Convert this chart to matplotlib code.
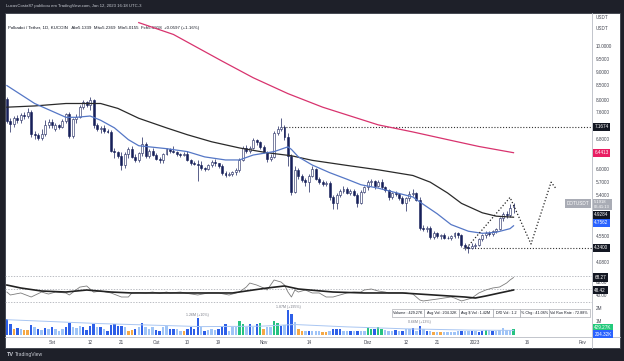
import matplotlib
matplotlib.use("Agg")
import matplotlib.pyplot as plt
import matplotlib.dates as mdates
import matplotlib.transforms as mtransforms
from matplotlib.patches import Rectangle
from matplotlib.ticker import NullLocator
import pandas as pd

plt.rcParams['font.family'] = ['Liberation Sans', 'DejaVu Sans']

# ------------------------------------------------------------------ data
opens = [
    8.05, 7.35, 7.25, 7.45, 7.38, 7.52, 7.50, 7.62, 6.95, 6.92, 6.85, 6.95, 7.22,
    7.33, 7.10, 7.22, 7.18, 7.35, 7.55, 6.90, 7.40, 7.48, 7.78, 7.95, 7.85, 8.00, 7.22, 7.10,
    7.15, 7.05, 7.02, 6.50, 6.46, 6.35, 6.12, 6.40, 6.55, 6.33, 6.25, 6.42, 6.68, 6.36, 6.50,
    6.38, 6.28, 6.24, 6.40, 6.53, 6.50, 6.46, 6.40, 6.38, 6.41, 6.25, 6.18, 6.15, 6.12, 6.05,
    6.03, 6.13, 6.20, 6.16, 6.10, 5.92, 5.88, 5.90, 5.94, 5.99, 6.25, 6.58, 6.48, 6.58, 6.78, 6.72,
    6.60, 6.45, 6.27, 6.34, 6.98, 7.12, 7.17, 6.88, 6.35, 5.48, 6.00, 5.85, 5.75, 5.70, 5.85,
    6.02, 5.78, 5.70, 5.66, 5.68, 5.35, 5.22, 5.40, 5.50, 5.55, 5.45, 5.50, 5.40, 5.22, 5.48,
    5.58, 5.70, 5.72, 5.60, 5.70, 5.58, 5.52, 5.35, 5.45, 5.42, 5.33, 5.23, 5.33, 5.42, 5.46,
    5.30, 4.72, 4.69, 4.72, 4.54, 4.62, 4.55, 4.57, 4.52, 4.53, 4.56, 4.61, 4.58, 4.40, 4.36, 4.34,
    4.38, 4.40, 4.50, 4.57, 4.62, 4.60, 4.65, 4.70, 4.91, 5.00, 4.97, 5.1339,
]
highs = [
    8.12, 7.45, 7.50, 7.52, 7.60, 7.62, 7.75, 7.68, 7.05, 7.00, 7.10, 7.38, 7.42,
    7.40, 7.28, 7.26, 7.40, 7.60, 7.62, 7.45, 7.55, 7.85, 8.00, 7.98, 8.10, 8.05, 7.30, 7.20,
    7.22, 7.12, 7.08, 6.58, 6.50, 6.45, 6.45, 6.60, 6.62, 6.40, 6.45, 6.88, 6.72, 6.55, 6.58,
    6.42, 6.32, 6.42, 6.58, 6.56, 6.62, 6.50, 6.44, 6.45, 6.48, 6.28, 6.22, 6.25, 6.22, 6.08,
    6.15, 6.25, 6.28, 6.18, 6.15, 5.98, 5.94, 5.98, 6.05, 6.30, 6.62, 6.65, 6.62, 6.85, 6.82, 6.76,
    6.65, 6.50, 6.40, 7.05, 7.20, 7.45, 7.22, 7.00, 6.40, 6.10, 6.05, 5.90, 5.80, 5.90, 6.10,
    6.05, 5.82, 5.76, 5.72, 5.72, 5.40, 5.45, 5.55, 5.60, 5.58, 5.55, 5.54, 5.44, 5.52, 5.62,
    5.75, 5.78, 5.75, 5.74, 5.78, 5.62, 5.55, 5.48, 5.50, 5.45, 5.38, 5.36, 5.50, 5.55, 5.48,
    5.35, 4.78, 4.76, 4.75, 4.65, 4.64, 4.60, 4.62, 4.56, 4.58, 4.64, 4.64, 4.60, 4.43, 4.40, 4.42,
    4.42, 4.52, 4.60, 4.66, 4.66, 4.68, 4.72, 4.94, 5.04, 5.05, 5.20, 5.2369,
]
lows = [
    7.30, 7.02, 7.18, 7.30, 7.28, 7.42, 7.45, 6.88, 6.82, 6.78, 6.80, 6.90, 7.15,
    7.15, 7.05, 7.12, 7.15, 7.30, 6.85, 6.85, 7.30, 7.45, 7.72, 7.78, 7.70, 7.15, 7.05, 6.98,
    7.00, 6.98, 6.45, 6.30, 6.30, 6.00, 6.05, 6.30, 6.30, 6.20, 6.20, 6.35, 6.30, 6.30, 6.35,
    6.25, 6.18, 6.18, 6.38, 6.42, 6.42, 6.36, 6.34, 6.35, 6.22, 6.12, 6.12, 5.72, 6.00, 5.98,
    6.00, 6.08, 6.10, 6.05, 5.88, 5.82, 5.85, 5.85, 5.88, 5.95, 6.22, 6.42, 6.42, 6.55, 6.65, 6.55,
    6.42, 6.20, 6.22, 6.30, 6.92, 7.05, 6.80, 6.10, 5.40, 5.45, 5.78, 5.70, 5.62, 5.48, 5.82,
    5.75, 5.65, 5.62, 5.62, 5.30, 5.10, 5.10, 5.35, 5.45, 5.42, 5.40, 5.38, 5.15, 5.20, 5.45,
    5.52, 5.60, 5.55, 5.58, 5.55, 5.48, 5.30, 5.32, 5.38, 5.30, 5.20, 5.05, 5.28, 5.38, 5.28,
    4.68, 4.65, 4.64, 4.50, 4.50, 4.52, 4.50, 4.50, 4.50, 4.48, 4.52, 4.52, 4.36, 4.30, 4.25, 4.32,
    4.34, 4.38, 4.46, 4.52, 4.56, 4.55, 4.62, 4.68, 4.86, 4.92, 4.93, 5.0155,
]
closes = [
    7.35, 7.25, 7.45, 7.38, 7.52, 7.50, 7.62, 6.95, 6.92, 6.85, 6.95, 7.22, 7.33,
    7.22, 7.22, 7.18, 7.35, 7.55, 6.90, 7.40, 7.48, 7.78, 7.95, 7.85, 8.00, 7.22, 7.10, 7.15,
    7.05, 7.02, 6.50, 6.46, 6.35, 6.12, 6.40, 6.55, 6.33, 6.25, 6.42, 6.68, 6.36, 6.50, 6.38,
    6.28, 6.24, 6.40, 6.53, 6.50, 6.46, 6.40, 6.38, 6.41, 6.25, 6.18, 6.15, 6.12, 6.05, 6.03,
    6.13, 6.20, 6.16, 6.10, 5.92, 5.88, 5.90, 5.94, 5.99, 6.25, 6.58, 6.48, 6.58, 6.78, 6.72, 6.60,
    6.45, 6.27, 6.34, 6.98, 7.12, 7.17, 6.88, 6.35, 5.48, 6.00, 5.85, 5.75, 5.70, 5.85, 6.02,
    5.78, 5.70, 5.66, 5.68, 5.35, 5.22, 5.40, 5.50, 5.55, 5.45, 5.50, 5.40, 5.22, 5.48, 5.58,
    5.70, 5.72, 5.60, 5.70, 5.58, 5.52, 5.35, 5.45, 5.42, 5.33, 5.23, 5.33, 5.42, 5.46, 5.30,
    4.72, 4.69, 4.72, 4.54, 4.62, 4.55, 4.57, 4.52, 4.53, 4.56, 4.61, 4.58, 4.40, 4.36, 4.34, 4.38,
    4.40, 4.50, 4.57, 4.62, 4.60, 4.65, 4.70, 4.91, 5.00, 4.97, 5.13, 5.1918,
]
volumes = [
    1.20, 0.85, 0.45, 0.50, 0.45, 0.35, 0.33, 0.75, 0.56, 0.44, 0.36, 0.49, 0.44,
    0.56, 0.44, 0.31, 0.40, 0.56, 0.90, 0.62, 0.50, 0.70, 0.56, 0.36, 0.70, 0.85, 0.56, 0.56,
    0.44, 0.31, 0.78, 0.82, 0.69, 0.69, 0.62, 0.31, 0.36, 0.44, 0.56, 0.87, 0.56, 0.44, 0.56,
    0.36, 0.30, 0.56, 0.69, 0.44, 0.44, 0.44, 0.31, 0.26, 0.44, 0.56, 0.44, 1.26, 0.56, 0.31,
    0.36, 0.44, 0.36, 0.44, 0.69, 0.82, 0.31, 0.56, 0.56, 1.08, 0.82, 0.56, 0.82, 0.56, 0.82, 0.87,
    0.44, 0.56, 0.62, 1.08, 0.87, 0.69, 0.74, 1.87, 1.60, 0.95, 0.44, 0.31, 0.26, 0.31, 0.31,
    0.26, 0.26, 0.18, 0.18, 0.26, 0.44, 0.44, 0.44, 0.31, 0.31, 0.26, 0.31, 0.26, 0.31, 0.31,
    0.56, 0.44, 0.44, 0.56, 0.44, 0.36, 0.31, 0.26, 0.36, 0.26, 0.31, 0.44, 0.44, 0.49, 0.31,
    0.69, 0.44, 0.26, 0.26, 0.18, 0.18, 0.18, 0.18, 0.18, 0.23, 0.18, 0.26, 0.31, 0.31, 0.26, 0.26,
    0.26, 0.18, 0.31, 0.38, 0.36, 0.26, 0.31, 0.36, 0.49, 0.38, 0.38, 0.43,
]
volume_kind = ("ddodloodldldl"
               "dlllddllld" "dddldldddd" "dloodldlll"
               "ddllddllod" "dddldllldd" "dlllggldldg"
               "ollggdlddl" "ooldlllool" "dddlldldll"
               "ggdggllldl" "dlldldldlo" "lollllldlld"
               "lddgldlllllg")

ma_blue_dates = ["2022-08-19", "2022-08-27", "2022-09-05", "2022-09-08", "2022-09-12", "2022-09-15",
                 "2022-09-19", "2022-09-23", "2022-09-26", "2022-10-04", "2022-10-10", "2022-10-15",
                 "2022-10-21", "2022-10-25", "2022-10-29", "2022-11-04", "2022-11-08", "2022-11-09",
                 "2022-11-11", "2022-11-15", "2022-11-20", "2022-11-25", "2022-11-29", "2022-12-04",
                 "2022-12-14", "2022-12-16", "2022-12-21", "2022-12-25", "2022-12-30", "2023-01-03",
                 "2023-01-07", "2023-01-11", "2023-01-12"]
ma_blue = [8.51, 7.90, 7.46, 7.46, 7.50, 7.37, 7.14, 6.80, 6.63, 6.55, 6.47, 6.33, 6.25, 6.25,
           6.38, 6.47, 6.60, 6.53, 6.33, 6.12, 5.93, 5.77, 5.64, 5.56, 5.36, 5.25, 5.00, 4.78,
           4.65, 4.61, 4.63, 4.70, 4.7562]

ma_black_dates = ["2022-08-19", "2022-08-27", "2022-09-05", "2022-09-15", "2022-09-20", "2022-09-26",
                  "2022-10-04", "2022-10-10", "2022-10-17", "2022-10-25", "2022-11-02", "2022-11-09",
                  "2022-11-15", "2022-11-25", "2022-12-04", "2022-12-14", "2022-12-19", "2022-12-24",
                  "2022-12-28", "2023-01-03", "2023-01-07", "2023-01-12"]
ma_black = [7.78, 7.82, 7.90, 7.90, 7.74, 7.43, 7.14, 6.94, 6.74, 6.57, 6.44, 6.36, 6.24, 6.11,
            6.00, 5.86, 5.70, 5.45, 5.22, 5.02, 4.95, 4.9284]

ma_pink_dates = ["2022-09-26", "2022-10-06", "2022-10-20", "2022-10-29", "2022-11-08", "2022-11-18",
                 "2022-12-04", "2022-12-14", "2022-12-24", "2023-01-02", "2023-01-12"]
ma_pink = [11.05, 10.52, 9.42, 8.79, 8.23, 7.78, 7.23, 7.02, 6.80, 6.61, 6.4413]

rsi_dates = ["2022-08-19", "2022-08-20", "2022-08-23", "2022-08-26", "2022-08-29", "2022-08-31",
             "2022-09-02", "2022-09-05", "2022-09-06", "2022-09-09", "2022-09-11", "2022-09-13",
             "2022-09-15", "2022-09-18", "2022-09-21", "2022-09-23", "2022-09-24", "2022-09-26",
             "2022-09-28", "2022-09-30", "2022-10-02", "2022-10-04", "2022-10-05", "2022-10-08",
             "2022-10-10", "2022-10-13", "2022-10-16", "2022-10-19", "2022-10-22", "2022-10-25",
             "2022-10-27", "2022-10-28", "2022-10-30", "2022-11-01", "2022-11-02", "2022-11-04",
             "2022-11-06", "2022-11-07", "2022-11-08", "2022-11-09", "2022-11-10", "2022-11-11",
             "2022-11-13", "2022-11-15", "2022-11-17", "2022-11-19", "2022-11-21", "2022-11-23",
             "2022-11-25", "2022-11-27", "2022-11-29", "2022-11-30", "2022-12-02", "2022-12-04",
             "2022-12-06", "2022-12-07", "2022-12-09", "2022-12-12", "2022-12-14", "2022-12-16",
             "2022-12-17", "2022-12-19", "2022-12-21", "2022-12-23", "2022-12-25", "2022-12-26",
             "2022-12-28", "2022-12-29", "2022-12-31", "2023-01-02", "2023-01-04", "2023-01-06",
             "2023-01-08", "2023-01-10", "2023-01-11", "2023-01-12"]
rsi = [45.2, 40.5, 43.7, 37.3, 45.2, 42.0,
       45.2, 43.7, 40.5, 53.0, 54.8, 45.0,
       47.0, 43.7, 37.3, 37.3, 43.7, 44.5,
       43.7, 45.2, 43.0, 45.2, 43.7, 45.2,
       43.0, 40.5, 43.7, 43.7, 40.5, 45.2,
       53.2, 59.5, 56.3, 51.6, 48.4, 64.3,
       61.1, 56.3, 45.2, 37.3, 48.4, 45.2,
       48.4, 43.7, 43.7, 37.3, 37.3, 40.5,
       43.7, 45.2, 45.2, 48.4, 50.0, 46.8,
       45.2, 43.7, 43.7, 43.7, 42.0, 32.5,
       31.0, 32.5, 34.0, 35.7, 37.3, 35.7,
       31.0, 32.5, 35.7, 43.7, 48.4, 51.6,
       53.2, 59.5, 64.3, 68.27]
rsi_ma_dates = ["2022-08-19", "2022-08-23", "2022-08-29", "2022-09-05", "2022-09-11", "2022-09-18",
                "2022-09-24", "2022-10-04", "2022-10-13", "2022-10-23", "2022-11-02", "2022-11-07",
                "2022-11-11", "2022-11-21", "2022-11-30", "2022-12-11", "2022-12-20", "2022-12-29",
                "2023-01-01", "2023-01-04", "2023-01-08", "2023-01-12"]
rsi_ma = [56.3, 51.6, 46.8, 45.2, 48.4, 45.2, 43.7, 43.7, 43.7, 43.7, 51.6, 54.8,
          50.0, 45.2, 43.7, 43.7, 40.5, 37.3, 35.7, 38.9, 43.7, 48.42]

vol_ma_dates = ["2022-08-19", "2022-09-15", "2022-10-14", "2022-10-31", "2022-11-10",
                "2022-11-25", "2022-12-12", "2022-12-31", "2023-01-12"]
vol_ma = [1.15, 0.85, 0.62, 0.65, 0.78, 0.60, 0.45, 0.35, 0.33]

projection_dates = ["2022-12-29 12:00", "2023-01-11 00:00", "2023-01-17 01:00", "2023-01-22 20:00",
                    "2023-01-24 08:00"]
projection_prices = [4.34, 5.35, 4.41, 5.70, 5.54]

price_ticks = [10.0, 9.5, 9.0, 8.5, 8.0, 7.6, 6.8, 6.0, 5.7, 5.4, 4.55, 4.08]
x_tick_dates = ["2022-09-01", "2022-09-12", "2022-09-21", "2022-10-01", "2022-10-10", "2022-10-19",
                "2022-11-01", "2022-11-14", "2022-12-01", "2022-12-12", "2022-12-21", "2023-01-01",
                "2023-01-16", "2023-02-01"]
x_tick_labels = ["Set", "12", "21", "Out", "10", "19", "Nov", "14", "Dez", "12", "21", "2023", "16", "Fev"]

resistance, support = 7.1674, 4.34
stats = ["Volume : 429.27K", "Avg Vol : 204.32K", "Avg $ Vol : 1.42M", "D/D Vol : 1.2",
         "% Chg : 41.06%", "Vol Run Rate : 72.88%"]

# ------------------------------------------------------------------ layout
dates = pd.date_range("2022-08-19", periods=len(closes), freq="D")
x = mdates.date2num(dates)


def d(s):
    return mdates.date2num(pd.Timestamp(s))


def dl(lst):
    return [d(s) for s in lst]


sep1 = d("2022-09-01")
xmin, xmax = sep1 - 47 / 3.47, sep1 + 540 / 3.47

W, H = 624, 361
fig = plt.figure(figsize=(W / 100, H / 100), dpi=100)
fig.patch.set_facecolor('#1e2029')
bg = fig.add_axes([0, 0, 1, 1])
bg.set_xlim(0, W); bg.set_ylim(H, 0); bg.axis('off')
bg.add_patch(Rectangle((5, 13), 615, 335, facecolor='white', edgecolor='#3a3e48', lw=0.6))
bg.plot([592, 592], [13, 348], color='#b8bcc4', lw=0.6)
bg.plot([5, 620], [336.5, 336.5], color='#b8bcc4', lw=0.6)

FS = 3.3
TXT = '#434651'


def pane(top, bottom):
    a = fig.add_axes([5 / W, 1 - bottom / H, 587 / W, (bottom - top) / H])
    a.set_facecolor('none')
    for s in a.spines.values():
        s.set_visible(False)
    a.set_xlim(xmin, xmax)
    return a


def clean(a):
    a.xaxis.set_major_locator(NullLocator()); a.xaxis.set_minor_locator(NullLocator())
    a.yaxis.set_major_locator(NullLocator()); a.yaxis.set_minor_locator(NullLocator())


def rlabel(a, v, s):
    tr = mtransforms.blended_transform_factory(a.transAxes, a.transData)
    a.text(1.007, v, s, transform=tr, fontsize=FS, color=TXT, va='center', ha='left', clip_on=False)


def tag(a, v, s, fc, tc='white', fs=FS):
    tr = mtransforms.blended_transform_factory(a.transAxes, a.transData)
    a.text(1.004, v, s, transform=tr, fontsize=fs, color=tc, va='center', ha='left', clip_on=False,
           bbox=dict(boxstyle='square,pad=0.35', fc=fc, ec='none'), zorder=10)


# ---- main price pane
ax = pane(13, 270)
ax.set_yscale('log')
ax.set_ylim(3.959, 11.50)
clean(ax)

navy = '#17205a'
ax.vlines(x, lows, highs, color=navy, lw=0.5, zorder=2)
bottoms = [min(o, c) for o, c in zip(opens, closes)]
heights = [max(abs(c - o), 0.006) for o, c in zip(opens, closes)]
fills = ['white' if c >= o else navy for o, c in zip(opens, closes)]
ax.bar(x, heights, bottom=bottoms, width=0.56, color=fills, edgecolor=navy, linewidth=0.4, zorder=3)

ax.plot(dl(ma_pink_dates), ma_pink, color='#d8336e', lw=0.9, zorder=4)
ax.plot(dl(ma_black_dates), ma_black, color='#2a2a2a', lw=0.9, zorder=4)
ax.plot(dl(ma_blue_dates), ma_blue, color='#5577c6', lw=0.9, zorder=4)

dot = (0, (1, 1.6))
ax.plot([d("2022-11-06 16:00"), xmax], [resistance, resistance], color='#333', lw=0.8, ls=dot)
ax.plot([d("2022-12-28 12:00"), xmax], [support, support], color='#333', lw=0.8, ls=dot)
ax.plot(dl(projection_dates), projection_prices, color='#222', lw=0.9, ls=dot, zorder=5)

for t in price_ticks:
    rlabel(ax, t, f"{t:.4f}")
tag(ax, resistance, f"{resistance:.4f}", '#131722')
tag(ax, ma_pink[-1], f"{ma_pink[-1]:.4f}", '#e91e63')
tag(ax, closes[-1], f"{closes[-1]:.4f}\n06:41:13", '#a9acb5', fs=3.0)
tag(ax, 4.975, f"{ma_black[-1]:.4f}", '#131722')
tag(ax, 4.812, f"{ma_blue[-1]:.4f}", '#2962ff')
tag(ax, support, f"{support:.4f}", '#131722')
tr = mtransforms.blended_transform_factory(ax.transAxes, ax.transData)
ax.text(0.996, 5.215, "DOTUSDT", transform=tr, fontsize=FS, color='white', ha='right', va='center',
        bbox=dict(boxstyle='square,pad=0.35', fc='#a9acb5', ec='none'), zorder=10)

# ---- RSI pane
ar = pane(270, 306)
ar.set_ylim(23, 80.2)
clean(ar)
for lv in (70, 50, 30):
    ar.axhline(lv, color='#a0a3ab', lw=0.5, ls=(0, (2, 2)))
ar.plot(dl(rsi_dates), rsi, color='#7c7c7c', lw=0.6, zorder=3)
ar.plot(dl(rsi_ma_dates), rsi_ma, color='#222', lw=1.2, zorder=4)
rlabel(ar, 60, "60.00")
rlabel(ar, 40, "40.00")
tag(ar, rsi[-1], f"{rsi[-1]:.2f}", '#131722')
tag(ar, rsi_ma[-1], f"{rsi_ma[-1]:.2f}", '#131722')

# ---- volume pane
av = pane(306, 336)
av.set_ylim(-0.1, 2.2)
clean(av)
kind_colors = {'d': '#2d5fe8', 'l': '#9fc4f7', 'o': '#f5a845', 'g': '#26c281'}
av.bar(x, volumes, width=0.7, color=[kind_colors[k] for k in volume_kind], zorder=2)
av.plot(dl(vol_ma_dates), vol_ma, color='#a9c6f2', lw=0.7, zorder=3)
for dd, lab in [("2022-10-13", "1.26M (+10%)"), ("2022-11-08", "1.87M (+195%)"), ("2022-12-16", "0.66M (+13%)")]:
    i = list(dates).index(pd.Timestamp(dd))
    av.text(x[i], volumes[i] + 0.12, lab, fontsize=2.6, color='#787b86', ha='center', va='bottom')
rlabel(av, 2.0, "2M")
rlabel(av, 1.0, "1M")
tag(av, 0.52, "429.27K", '#22c97a')
tag(av, 0.05, "204.32K", '#2962ff')

# x tick labels
trx = mtransforms.blended_transform_factory(av.transData, av.transAxes)
for dd, lab in zip(x_tick_dates, x_tick_labels):
    av.text(d(dd), -0.2, lab, transform=trx, fontsize=FS, color=TXT, ha='center', va='center', clip_on=False)

# stats table
total = sum(len(s) + 2 for s in stats)
x0, x1, y0, y1 = 392, 590, 308.5, 317
cx = x0
for s in stats:
    w = (x1 - x0) * (len(s) + 2) / total
    bg.add_patch(Rectangle((cx, y0), w, y1 - y0, facecolor='white', edgecolor='#9a9ca3', lw=0.4, zorder=5))
    bg.text(cx + w / 2, (y0 + y1) / 2, s, fontsize=2.7, color='#131722', ha='center', va='center', zorder=6)
    cx += w

# header texts
bg.text(6, 6.5, "LucasCosta87 publicou em TradingView.com, Jan 12, 2023 16:18 UTC-3", color='#c9ccd4',
        fontsize=3.1, va='center')
bg.text(8, 28, "Polkadot / Tether, 1D, KUCOIN   Abr5.1339  Máx5.2369  Mín5.0155  Fch5.1918  +0.0597 (+1.16%)",
        color='#131722', fontsize=3.2, va='center')
bg.text(596, 17.5, "USDT", color=TXT, fontsize=FS, va='center')
bg.text(596, 28, "USDT", color=TXT, fontsize=FS, va='center')
bg.text(7, 354.5, "TV", color='#c9ccd4', fontsize=4.0, fontweight='bold', va='center')
bg.text(15, 354.5, "TradingView", color='#c9ccd4', fontsize=3.6, va='center')

fig.savefig("out.png", dpi=100, facecolor=fig.get_facecolor())
